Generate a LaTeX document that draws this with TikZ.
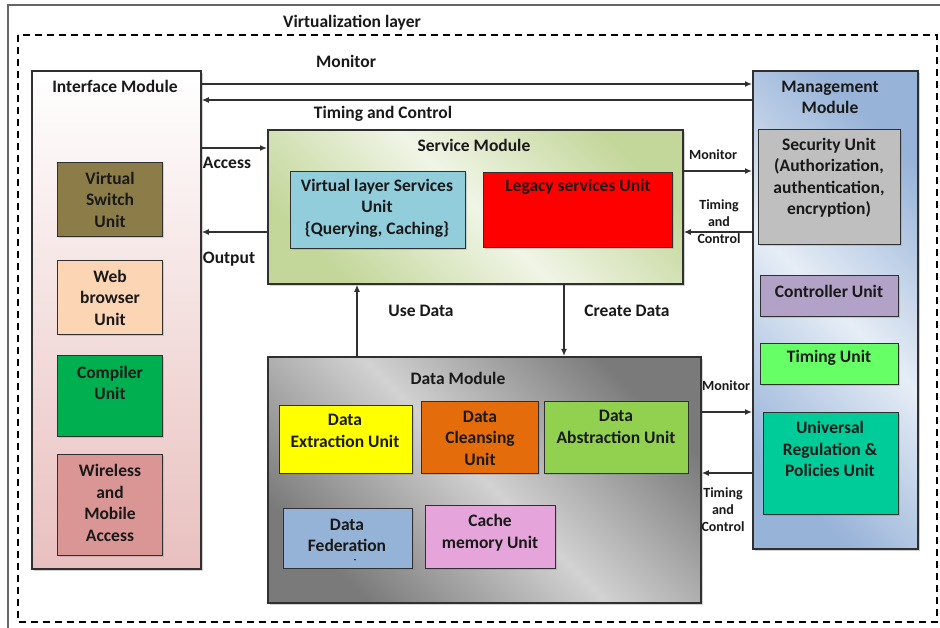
\documentclass[tikz,border=0pt]{standalone}
\usepackage{fontspec}
\setmainfont{Carlito}
\usetikzlibrary{arrows.meta,shadows}
\definecolor{olivebox}{HTML}{8C7D48}
\definecolor{peachbox}{HTML}{FCD5B5}
\definecolor{compgreen}{HTML}{00B050}
\definecolor{wirered}{HTML}{D99694}
\definecolor{vlsblue}{HTML}{92CDDC}
\definecolor{secgray}{HTML}{BFBFBF}
\definecolor{ctrlpurple}{HTML}{B3A2C7}
\definecolor{timgreen}{HTML}{66FF66}
\definecolor{univgreen}{HTML}{00CC99}
\definecolor{dexyellow}{HTML}{FFFF00}
\definecolor{dclorange}{HTML}{E46C0A}
\definecolor{dabgreen}{HTML}{92D050}
\definecolor{dfeblue}{HTML}{95B3D7}
\definecolor{cmupink}{HTML}{E6A5DA}
\definecolor{linegray}{HTML}{303030}
\definecolor{smdark}{HTML}{C4D79B}
\definecolor{smlight}{HTML}{F0F5E6}
\definecolor{mmdark}{HTML}{97B3D8}
\definecolor{mmlight}{HTML}{E6EDF6}
\definecolor{dmdark}{HTML}{7A7A7A}
\definecolor{dmlight}{HTML}{D2D2D2}
\begin{document}
\begin{tikzpicture}[x=1pt,y=-1pt,
  module/.style={draw=linegray, line width=1.8pt, rectangle, anchor=north west, inner sep=0pt,
    drop shadow={shadow xshift=2pt,shadow yshift=-2pt,opacity=0.35}},
  unit/.style={draw=linegray, line width=1.1pt, rectangle, anchor=north west, inner sep=0pt,
    drop shadow={shadow xshift=1.5pt,shadow yshift=-1.5pt,opacity=0.3}},
  txt/.style={font=\fontsize{17.5}{21.5}\selectfont\bfseries, align=center, text=black!90, inner sep=0pt},
  small/.style={font=\fontsize{14}{17}\selectfont\bfseries, align=center, text=black!90, inner sep=0pt},
  conn/.style={draw=linegray, line width=1.3pt, -{Latex[length=7pt,width=6pt]}},
]
\useasboundingbox (0,0) rectangle (940,628);
\fill[white] (0,0) rectangle (940,628);
% outer frame (partly outside the picture)
\draw[gray!80!black, line width=1.3pt] (8,628) -- (8,5) -- (940,5);
% virtualization layer
\draw[black, line width=1.8pt, dash pattern=on 7pt off 5pt] (18,35) rectangle (937,622);
\node[txt] (vl) at (352,23) {Virtualization layer};

% Interface module
\node[module, minimum width=169pt, minimum height=498pt, top color=white, bottom color=wirered!60] (im) at (31,70) {};
\node[txt] (imt) at (115,86) {Interface Module};
\node[unit, fill=olivebox, minimum width=105pt, minimum height=74pt] (vs) at (57,162) {};
\node[txt] (vst) at (vs.center) {Virtual\\Switch\\Unit};
\node[unit, fill=peachbox, minimum width=105pt, minimum height=74pt] (wb) at (57,260) {};
\node[txt] (wbt) at (wb.center) {Web\\browser\\Unit};
\node[unit, fill=compgreen, minimum width=105pt, minimum height=81pt] (cu) at (57,355) {};
\node[txt] (cut) at (110,383) {Compiler\\Unit};
\node[unit, fill=wirered, minimum width=105pt, minimum height=101pt] (wm) at (57,454) {};
\node[txt] (wmt) at (110,503) {Wireless\\and\\Mobile\\Access};

% Service module
\node[module, minimum width=415pt, minimum height=154pt,
  left color=smdark, right color=smdark, middle color=smlight, shading angle=-45] (sm) at (267,129) {};
\node[txt] (smt) at (474,145) {Service Module};
\node[unit, fill=vlsblue, minimum width=175pt, minimum height=77pt] (vls) at (290,171) {};
\node[txt] (vlst) at (377,208) {Virtual layer Services\\Unit\\\{Querying, Caching\}};
\node[unit, fill=red, minimum width=189pt, minimum height=75pt] (lsu) at (483,172) {};
\node[txt] (lsut) at (578,187) {Legacy services Unit};

% Management module
\node[module, minimum width=165pt, minimum height=478pt,
  left color=mmdark, right color=mmdark, middle color=mmlight, shading angle=-45] (mm) at (752,70) {};
\node[txt] (mmt) at (830,97.5) {Management\\Module};
\node[unit, fill=secgray, minimum width=142pt, minimum height=115pt] (sec) at (758,129) {};
\node[txt] (sect) at (829,177.5) {Security Unit\\(Authorization,\\authentication,\\encryption)};
\node[unit, fill=ctrlpurple, minimum width=138pt, minimum height=41pt] (ctrl) at (760,275) {};
\node[txt] (ctrlt) at (829,291) {Controller Unit};
\node[unit, fill=timgreen, minimum width=138pt, minimum height=41pt] (tim) at (760,343) {};
\node[txt] (timt) at (829,358) {Timing Unit};
\node[unit, fill=univgreen, minimum width=135pt, minimum height=102pt] (ur) at (763,412) {};
\node[txt] (urt) at (830,449) {Universal\\Regulation \&\\Policies Unit};

% Data module
\node[module, minimum width=433pt, minimum height=246pt,
  left color=dmdark, right color=dmdark, middle color=dmlight, shading angle=-45] (dm) at (267,356) {};
\node[txt] (dmt) at (458,378) {Data Module};
\node[unit, fill=dexyellow, minimum width=133pt, minimum height=68pt] (dex) at (279,405) {};
\node[txt] (dext) at (345,431) {Data\\Extraction Unit};
\node[unit, fill=dclorange, minimum width=117pt, minimum height=72pt] (dcl) at (421,401) {};
\node[txt] (dclt) at (480,438) {Data\\Cleansing\\Unit};
\node[unit, fill=dabgreen, minimum width=144pt, minimum height=72pt] (dab) at (544,401) {};
\node[txt] (dabt) at (616,427) {Data\\Abstraction Unit};
\node[unit, fill=dfeblue, minimum width=129pt, minimum height=60pt] (dfe) at (283,508) {};
\node[txt] (dfet) at (347,535.5) {Data\\Federation};
\node[font=\fontsize{8}{9}\selectfont\bfseries, inner sep=0pt] (dfed) at (355,561) {-};
\node[unit, fill=cmupink, minimum width=130pt, minimum height=63pt] (cmu) at (425,505) {};
\node[txt] (cmut) at (490,532.5) {Cache\\memory Unit};

% connectors
\draw[conn] (im.east |- 0,84) -- (mm.west |- 0,84);
\node[txt] (l1) at (346,61) {Monitor};
\draw[conn] (mm.west |- 0,100) -- (im.east |- 0,100);
\node[txt] (l2) at (383,114) {Timing and Control};
\draw[conn] (im.east |- 0,148) -- (sm.west |- 0,148);
\node[txt] (l3) at (227,163) {Access};
\draw[conn] (sm.west |- 0,232) -- (im.east |- 0,232);
\node[txt] (l4) at (229,259) {Output};
\draw[conn] (dm.north -| 357,0) -- (sm.south -| 357,0);
\node[txt] (l5) at (421,311) {Use Data};
\draw[conn] (sm.south -| 564,0) -- (dm.north -| 564,0);
\node[txt] (l6) at (627,311) {Create Data};
\draw[conn] (sm.east |- 0,171) -- (mm.west |- 0,171);
\node[small] (l7) at (713,155) {Monitor};
\draw[conn] (mm.west |- 0,232) -- (sm.east |- 0,232);
\node[small] (l8) at (719,222) {Timing\\and\\Control};
\draw[conn] (dm.east |- 0,412) -- (mm.west |- 0,412);
\node[small] (l9) at (726,386) {Monitor};
\draw[conn] (mm.west |- 0,473) -- (dm.east |- 0,473);
\node[small] (l10) at (723,510) {Timing\\and\\Control};
\end{tikzpicture}
\end{document}
